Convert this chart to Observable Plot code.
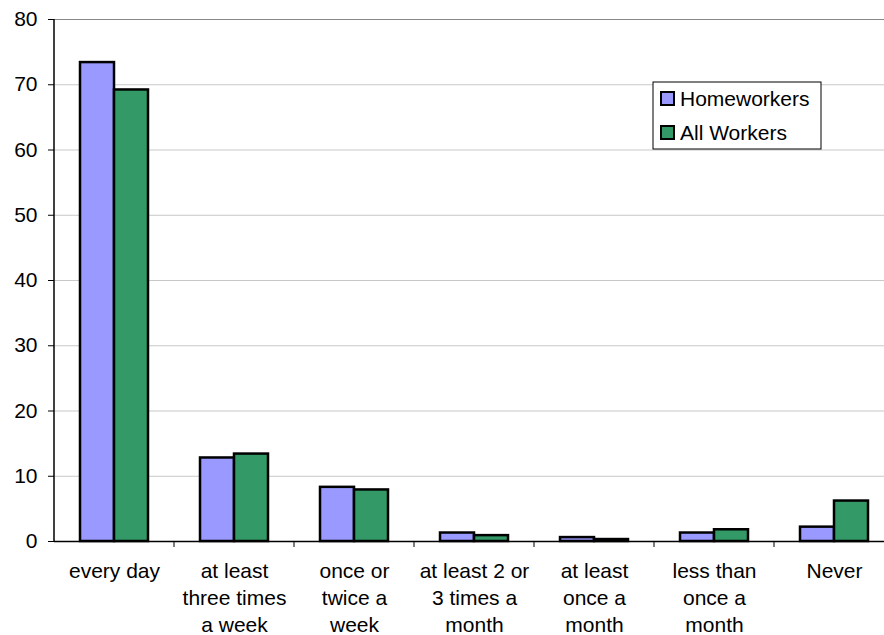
<!DOCTYPE html>
<html>
<head>
<meta charset="utf-8">
<script src="https://cdn.jsdelivr.net/npm/d3@7"></script>
<script src="https://cdn.jsdelivr.net/npm/@observablehq/plot@0.6"></script>
<style>
  html, body { margin: 0; padding: 0; background: #fff; }
  #chart { width: 884px; height: 635px; overflow: hidden; }
</style>
</head>
<body>
<div id="chart"></div>
<script>
// How often workers do this activity, share of respondents (%)
const categories = [
  "every day",
  "at least\nthree times\na week",
  "once or\ntwice a\nweek",
  "at least 2 or\n3 times a\nmonth",
  "at least\nonce a\nmonth",
  "less than\nonce a\nmonth",
  "Never"
];
const series = ["Homeworkers", "All Workers"];
const homeworkers = [73.4, 12.8, 8.3, 1.3, 0.6, 1.3, 2.2];
const allWorkers = [69.2, 13.4, 7.9, 0.9, 0.3, 1.8, 6.2];
const yTicks = [0, 10, 20, 30, 40, 50, 60, 70, 80];
const colors = ["#9999ff", "#339966"];

const data = categories.flatMap((c, i) => [
  {category: c, series: series[0], value: homeworkers[i]},
  {category: c, series: series[1], value: allWorkers[i]}
]);

const font = "'Liberation Sans', Arial, sans-serif";

const plot = Plot.plot({
  width: 884,
  height: 635,
  marginTop: 19,
  marginBottom: 94,
  marginLeft: 52,
  marginRight: -11,
  style: {fontFamily: font, fontSize: "21px", color: "#000", background: "#fff", overflow: "visible"},
  fx: {domain: categories, paddingInner: 0, paddingOuter: 0, label: null},
  x: {domain: series, paddingInner: 0, paddingOuter: 0.75, axis: null},
  y: {domain: [0, 80], label: null},
  color: {domain: series, range: colors},
  marks: [
    Plot.gridY(yTicks.filter(t => t > 0 && t < 80), {stroke: "#c8c8c8", strokeOpacity: 1}),
    Plot.ruleY([80], {stroke: "#888"}),
    Plot.barY(data, {fx: "category", x: "series", y: "value", fill: "series", stroke: "#000", strokeWidth: 2.5}),
    Plot.ruleY([0], {stroke: "#000", strokeWidth: 1.5}),
    Plot.axisY(yTicks, {tickSize: 6, tickPadding: 11, fontSize: 21, stroke: "#000"}),
    Plot.axisFx({anchor: "bottom", tickSize: 0, tickPadding: 17, fontSize: 21, lineHeight: 1.29})
  ]
});

document.getElementById("chart").appendChild(plot);

// Left axis line and category separator ticks, placed through the chart's scales
const fx = plot.scale("fx");
const y = plot.scale("y");
const svg = d3.select(plot);
const x0 = fx.apply(categories[0]);
svg.append("line")
  .attr("x1", x0).attr("x2", x0)
  .attr("y1", y.apply(0)).attr("y2", y.apply(80))
  .attr("stroke", "#000").attr("stroke-width", 1.5);
categories.slice(1).forEach(c => {
  const xb = fx.apply(c);
  svg.append("line")
    .attr("x1", xb).attr("x2", xb)
    .attr("y1", y.apply(0)).attr("y2", y.apply(0) + 6)
    .attr("stroke", "#000").attr("stroke-width", 1);
});

// Legend box
const lg = svg.append("g").attr("transform", "translate(653,82)")
  .attr("font-family", font).attr("font-size", 21).attr("text-anchor", "start");
lg.append("rect").attr("width", 168).attr("height", 67).attr("fill", "#fff").attr("stroke", "#000").attr("stroke-width", 1);
series.forEach((s, i) => {
  const row = lg.append("g").attr("transform", `translate(8,${10 + i * 34})`);
  row.append("rect").attr("width", 13).attr("height", 13).attr("fill", colors[i]).attr("stroke", "#000").attr("stroke-width", 2);
  row.append("text").attr("x", 19).attr("y", 14).attr("fill", "#000").attr("text-anchor", "start").text(s);
});
</script>
</body>
</html>
